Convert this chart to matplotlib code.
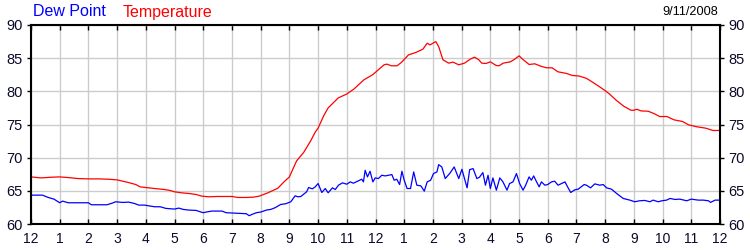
import matplotlib
matplotlib.use("Agg")
import matplotlib.pyplot as plt

# Temperatura y punto de rocío del 9/11/2008 (horas desde la medianoche)
temp_h = [0.0, 0.35, 0.7, 1.0, 1.3, 1.65, 2.0, 2.4, 2.7, 3.0, 3.2, 3.4, 3.65, 3.8,
          4.0, 4.3, 4.65, 4.85, 5.0, 5.25, 5.5, 5.75, 5.95, 6.2, 6.5, 7.0, 7.2, 7.5,
          7.75, 7.95, 8.25, 8.6, 8.8, 9.0, 9.25, 9.5, 9.75, 9.9, 10.0, 10.2, 10.35,
          10.7, 11.0, 11.25, 11.6, 11.9, 12.3, 12.4, 12.55, 12.75, 12.9, 13.15, 13.4,
          13.65, 13.8, 13.9, 14.1, 14.2, 14.35, 14.55, 14.7, 14.9, 15.1, 15.3, 15.45,
          15.6, 15.7, 15.85, 16.0, 16.2, 16.3, 16.45, 16.7, 16.85, 17.0, 17.15, 17.35,
          17.55, 17.75, 17.95, 18.15, 18.35, 18.65, 18.85, 19.1, 19.35, 19.5, 19.75,
          20.0, 20.15, 20.4, 20.65, 20.9, 21.0, 21.1, 21.25, 21.5, 21.7, 21.9, 22.15,
          22.4, 22.7, 22.9, 23.2, 23.5, 23.75, 24.0]
temp_v = [67.1, 66.95, 67.05, 67.1, 67.0, 66.85, 66.8, 66.8, 66.75, 66.65, 66.45,
          66.25, 65.95, 65.6, 65.5, 65.35, 65.2, 65.05, 64.85, 64.7, 64.6, 64.45, 64.2,
          64.1, 64.15, 64.15, 64.0, 64.0, 64.05, 64.2, 64.7, 65.4, 66.3, 67.1, 69.5,
          70.8, 72.6, 73.85, 74.45, 76.35, 77.5, 79.0, 79.6, 80.35, 81.75, 82.5, 84.0,
          84.1, 83.85, 83.85, 84.35, 85.5, 85.85, 86.35, 87.25, 87.0, 87.5, 86.75,
          84.75, 84.25, 84.4, 84.0, 84.25, 84.85, 85.15, 84.75, 84.25, 84.2, 84.45,
          83.9, 83.85, 84.25, 84.45, 84.85, 85.35, 84.75, 84.05, 84.15, 83.8, 83.55,
          83.55, 82.95, 82.7, 82.4, 82.3, 81.95, 81.55, 80.85, 80.1, 79.6, 78.6, 77.75,
          77.15, 77.15, 77.3, 77.05, 77.0, 76.65, 76.2, 76.2, 75.7, 75.45, 74.95,
          74.65, 74.45, 74.1, 74.1]

dew_h = [0.0, 0.4, 0.6, 0.8, 1.0, 1.1, 1.3, 2.0, 2.1, 2.65, 2.8, 2.95, 3.2, 3.4, 3.6,
         3.75, 3.95, 4.3, 4.5, 4.7, 5.0, 5.15, 5.3, 5.5, 5.75, 6.0, 6.1, 6.3, 6.65,
         6.8, 7.05, 7.5, 7.6, 7.7, 7.85, 8.0, 8.2, 8.35, 8.5, 8.7, 8.87, 9.05, 9.2,
         9.3, 9.4, 9.6, 9.67, 9.8, 9.9, 10.0, 10.13, 10.25, 10.35, 10.5, 10.6, 10.71,
         10.85, 11.0, 11.12, 11.23, 11.4, 11.52, 11.58, 11.64, 11.72, 11.81, 11.91,
         11.99, 12.1, 12.22, 12.34, 12.45, 12.57, 12.65, 12.74, 12.84, 12.92, 13.0,
         13.1, 13.22, 13.33, 13.44, 13.58, 13.7, 13.8, 13.92, 14.02, 14.14, 14.2,
         14.31, 14.43, 14.6, 14.74, 14.9, 15.01, 15.19, 15.28, 15.4, 15.53, 15.62,
         15.74, 15.83, 15.92, 16.0, 16.09, 16.21, 16.33, 16.44, 16.58, 16.67, 16.79,
         16.91, 17.02, 17.14, 17.23, 17.35, 17.43, 17.51, 17.6, 17.7, 17.78, 17.9,
         18.0, 18.13, 18.24, 18.36, 18.48, 18.6, 18.71, 18.8, 18.94, 19.06, 19.27,
         19.35, 19.49, 19.64, 19.81, 19.93, 20.05, 20.22, 20.4, 20.63, 20.86, 21.03,
         21.2, 21.38, 21.56, 21.67, 21.85, 21.97, 22.14, 22.26, 22.43, 22.6, 22.84,
         23.0, 23.24, 23.42, 23.6, 23.67, 23.83, 24.0]
dew_v = [64.35, 64.35, 64.0, 63.75, 63.2, 63.45, 63.2, 63.2, 62.9, 62.9, 63.1, 63.35,
         63.25, 63.3, 63.1, 62.85, 62.85, 62.6, 62.6, 62.35, 62.25, 62.4, 62.2, 62.1,
         62.05, 61.7, 61.8, 61.95, 61.95, 61.7, 61.65, 61.55, 61.25, 61.45, 61.7, 61.8,
         62.1, 62.2, 62.45, 62.95, 63.05, 63.35, 64.25, 64.1, 64.15, 64.85, 65.5, 65.3,
         65.6, 66.1, 64.75, 65.35, 64.7, 65.45, 65.2, 65.85, 66.2, 66.0, 66.35, 66.15,
         66.5, 66.75, 66.35, 68.1, 67.1, 67.95, 66.35, 66.95, 66.85, 67.35, 67.25,
         67.35, 67.45, 66.6, 66.75, 65.95, 67.95, 66.6, 65.35, 65.35, 67.85, 65.85,
         65.75, 64.95, 66.35, 66.6, 67.6, 67.85, 68.95, 68.6, 66.85, 67.7, 68.6, 66.85,
         68.25, 65.45, 68.2, 68.35, 66.85, 67.05, 67.75, 65.85, 67.35, 65.35, 66.95,
         65.1, 66.95, 66.35, 65.1, 66.1, 66.35, 67.6, 66.1, 65.1, 65.85, 67.1, 66.6,
         67.25, 66.45, 65.6, 66.35, 65.85, 65.95, 66.35, 66.45, 65.85, 66.1, 66.35,
         65.45, 64.75, 65.15, 65.25, 65.95, 65.85, 65.45, 66.05, 65.85, 65.95, 65.45,
         65.25, 64.6, 63.85, 63.6, 63.35, 63.5, 63.55, 63.35, 63.6, 63.35, 63.5, 63.6,
         63.85, 63.7, 63.75, 63.5, 63.75, 63.6, 63.6, 63.5, 63.25, 63.6, 63.6]

hour_labels = ["12", "1", "2", "3", "4", "5", "6", "7", "8", "9", "10", "11",
               "12", "1", "2", "3", "4", "5", "6", "7", "8", "9", "10", "11", "12"]
y_ticks = [60, 65, 70, 75, 80, 85, 90]

plt.rcParams["font.family"] = ["Liberation Sans", "DejaVu Sans"]
tick_col = "#0a0a2a"

fig = plt.figure(figsize=(7.5, 2.5), dpi=100)
ax = fig.add_axes([31 / 750, 1 - 224 / 250, 689 / 750, 199 / 250])

ax.plot(temp_h, temp_v, color="#ff0000", lw=0.9)
ax.plot(dew_h, dew_v, color="#0000ff", lw=0.9)

ax.set_xlim(0, 24)
ax.set_ylim(60, 90)
ax.set_xticks(range(25))
ax.set_xticklabels(hour_labels)
ax.set_yticks(y_ticks)
ax.grid(True, color="#cccccc", lw=1.0)
ax.set_axisbelow(True)

for s in ax.spines.values():
    s.set_color("black")
    s.set_linewidth(1.5)

ax.tick_params(axis="x", direction="in", top=True, bottom=True, length=3.5,
               width=1, labelsize=10, labelcolor=tick_col, pad=6)
ax.tick_params(axis="y", direction="out", left=True, right=True, labelleft=True,
               labelright=True, length=3, width=1, labelsize=10.5,
               labelcolor=tick_col, pad=3)

fig.text(33 / 750, 1 - 12 / 250, "Dew Point", color="#0000ff", fontsize=11.5, va="center")
fig.text(123 / 750, 1 - 12 / 250, "Temperature", color="#ff0000", fontsize=11.5, va="center")
fig.text(718 / 750, 1 - 12 / 250, "9/11/2008", color="black", fontsize=9.2, va="center", ha="right")

fig.savefig("out.png", dpi=100)
